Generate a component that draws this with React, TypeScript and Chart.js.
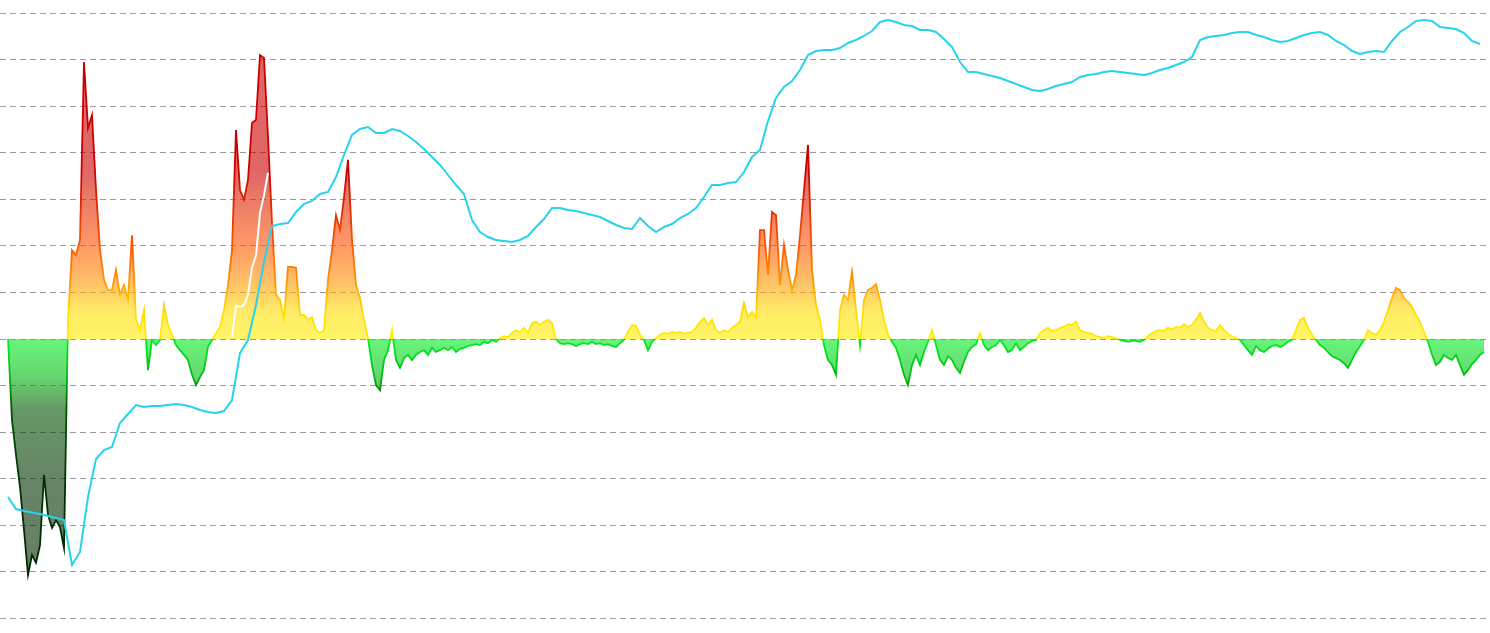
import React, { useEffect, useRef } from 'react';
import { Chart, registerables } from 'chart.js';

Chart.register(...registerables);

// Oscillator (daily-ish steps), index = day
const oscValues: number[] = [
  0, -1.74, -2.49, -3.18, -4.10, -5.07, -4.64, -4.81, -4.43, -2.92,
  -3.78, -4.06, -3.89, -4.04, -4.49, 0.41, 1.91, 1.80, 2.13, 5.95,
  4.53, 4.81, 3.20, 1.91, 1.27, 1.05, 1.05, 1.48, 0.95, 1.16,
  0.84, 2.23, 0.41, 0.19, 0.62, -0.67, -0.02, -0.13, -0.02, 0.73,
  0.30, 0.09, -0.13, -0.24, -0.34, -0.45, -0.77, -0.99, -0.82, -0.67,
  -0.17, -0.02, 0.13, 0.26, 0.62, 1.16, 1.91, 4.49, 3.20, 2.99,
  3.42, 4.64, 4.71, 6.10, 6.04, 4.34, 2.49, 0.95, 0.84, 0.45,
  1.55, 1.55, 1.53, 0.52, 0.52, 0.41, 0.47, 0.19, 0.13, 0.19,
  1.27, 1.91, 2.66, 2.34, 3.05, 3.85, 2.13, 1.16, 0.88, 0.41,
  0.02, -0.56, -0.99, -1.10, -0.45, -0.24, 0.19, -0.45, -0.62, -0.41,
  -0.34, -0.45, -0.34, -0.28, -0.24, -0.34, -0.19, -0.28, -0.24, -0.19,
  -0.24, -0.17, -0.28, -0.21, -0.19, -0.15, -0.13, -0.11, -0.13, -0.06,
  -0.09, -0.02, -0.06, 0.02, 0.06, 0.04, 0.13, 0.19, 0.15, 0.24,
  0.13, 0.34, 0.37, 0.30, 0.37, 0.41, 0.34, 0, -0.09, -0.11,
  -0.09, -0.11, -0.15, -0.11, -0.09, -0.11, -0.06, -0.11, -0.09, -0.13,
  -0.11, -0.15, -0.17, -0.09, -0.02, 0.15, 0.30, 0.28, 0.09, -0.02,
  -0.24, -0.06, 0.02, 0.09, 0.13, 0.11, 0.15, 0.13, 0.15, 0.11,
  0.13, 0.15, 0.24, 0.37, 0.45, 0.30, 0.41, 0.19, 0.13, 0.19,
  0.15, 0.24, 0.30, 0.37, 0.77, 0.47, 0.58, 0.45, 2.34, 2.34,
  1.38, 2.73, 2.66, 1.16, 2.02, 1.48, 1.05, 1.38, 2.23, 3.20,
  4.17, 1.48, 0.73, 0.41, -0.13, -0.45, -0.56, -0.77, 0.62, 0.95,
  0.84, 1.44, 0.62, -0.13, 0.84, 1.05, 1.10, 1.18, 0.84, 0.41,
  0.09, -0.06, -0.19, -0.45, -0.77, -0.99, -0.56, -0.34, -0.56, -0.28,
  -0.06, 0.19, -0.13, -0.45, -0.56, -0.37, -0.45, -0.62, -0.73, -0.49,
  -0.28, -0.17, -0.11, 0.13, -0.13, -0.24, -0.17, -0.13, -0.02, -0.13,
  -0.28, -0.24, -0.09, -0.24, -0.17, -0.09, -0.04, -0.02, 0.13, 0.19,
  0.24, 0.17, 0.19, 0.24, 0.26, 0.32, 0.30, 0.37, 0.19, 0.15,
  0.13, 0.11, 0.06, 0.04, 0.02, 0.06, 0.04, 0.02, -0.02, -0.04,
  -0.06, -0.04, -0.04, -0.06, -0.02, 0.06, 0.13, 0.17, 0.19, 0.17,
  0.24, 0.21, 0.26, 0.24, 0.32, 0.26, 0.30, 0.41, 0.56, 0.37,
  0.24, 0.19, 0.17, 0.30, 0.19, 0.11, 0.06, 0.02, -0.02, -0.13,
  -0.24, -0.34, -0.15, -0.24, -0.28, -0.21, -0.15, -0.13, -0.17, -0.13,
  -0.06, -0.02, 0.19, 0.41, 0.45, 0.24, 0.09, -0.02, -0.13, -0.19,
  -0.28, -0.37, -0.41, -0.45, -0.52, -0.62, -0.45, -0.28, -0.15, -0.02,
  0.19, 0.13, 0.09, 0.19, 0.37, 0.62, 0.88, 1.10, 1.05, 0.88,
  0.80, 0.69, 0.52, 0.37, 0.15, -0.06, -0.34, -0.56, -0.49, -0.34,
  -0.41, -0.45, -0.34, -0.56, -0.77, -0.67, -0.54, -0.45, -0.34, -0.28,
];

// Price (log-level index), one value every 2 days
const priceStep = 2;
const priceValues: number[] = [
  27.2, 24.8, 24.4, 24.1, 23.8, 23.4, 23.0, 22.6, 13.6, 16.2,
  27.2, 34.8, 36.6, 37.2, 42.0, 43.8, 45.6, 45.2, 45.4, 45.4,
  45.6, 45.8, 45.6, 45.2, 44.6, 44.2, 44.0, 44.4, 46.6, 56.0,
  58.6, 65.6, 74.2, 81.4, 81.8, 82.0, 84.2, 85.8, 86.4, 87.8,
  88.2, 91.2, 95.6, 99.6, 100.8, 101.2, 100.0, 100.0, 100.8, 100.4,
  99.4, 98.2, 96.8, 95.2, 93.6, 91.6, 89.6, 87.8, 82.6, 80.2,
  79.2, 78.6, 78.4, 78.2, 78.6, 79.4, 81.2, 82.8, 85.0, 85.0,
  84.6, 84.4, 84.0, 83.6, 83.2, 82.4, 81.6, 81.0, 80.8, 83.0,
  81.4, 80.2, 81.2, 81.8, 83.0, 83.8, 85.0, 87.2, 89.6, 89.6,
  90.0, 90.2, 92.2, 95.2, 96.6, 102.4, 107.0, 109.2, 110.4, 112.6,
  115.6, 116.4, 116.6, 116.6, 117.0, 118.0, 118.6, 119.4, 120.4, 122.2,
  122.6, 122.2, 121.6, 121.4, 120.6, 120.6, 120.2, 118.8, 117.2, 114.2,
  112.2, 112.2, 111.8, 111.4, 111.0, 110.4, 109.8, 109.2, 108.6, 108.4,
  108.8, 109.4, 109.8, 110.2, 111.2, 111.6, 111.8, 112.2, 112.4, 112.2,
  112.0, 111.8, 111.6, 112.0, 112.6, 113.0, 113.6, 114.2, 115.2, 118.6,
  119.2, 119.4, 119.6, 120.0, 120.2, 120.2, 119.6, 119.2, 118.6, 118.2,
  118.4, 119.0, 119.6, 120.0, 120.2, 119.6, 118.4, 117.6, 116.4, 115.8,
  116.2, 116.4, 116.2, 118.4, 120.2, 121.2, 122.4, 122.6, 122.4, 121.2,
  121.0, 120.8, 120.0, 118.4, 117.8,
];

// Short white overlay line (oscillator units)
const overlayStart = 56;
const overlayValues: number[] = [0.04, 0.71, 0.69, 0.73, 0.95, 1.53, 1.80, 2.71, 3.09, 3.57];

const gridLevels: number[] = [-6, -5, -4, -3, -2, -1, 0, 1, 2, 3, 4, 5, 6, 7];

const OSC_MIN = -6.317;
const OSC_MAX = 7.284;
const PRICE_MIN = 0;
const PRICE_MAX = 126.6;

const posStops: [number, string][] = [
  [7.3, '204,0,0'],
  [3.6, '204,0,0'],
  [3.0, '221,34,0'],
  [2.0, '255,85,0'],
  [1.2, '255,153,0'],
  [0.6, '255,221,0'],
  [0, '255,238,0'],
];
const negStops: [number, string][] = [
  [0, '0,238,34'],
  [-0.8, '0,187,17'],
  [-1.5, '0,85,0'],
  [-3, '0,51,0'],
  [-6.4, '0,34,0'],
];

function oscGradient(chart: any, alpha: number): any {
  const area = chart.chartArea;
  const yScale = chart.scales && chart.scales.y;
  if (!area || !yScale) return `rgba(255,238,0,${alpha})`;
  const g = chart.ctx.createLinearGradient(0, area.top, 0, area.bottom);
  const h = area.bottom - area.top;
  [...posStops, ...negStops].forEach(([v, rgb]) => {
    const off = (yScale.getPixelForValue(v) - area.top) / h;
    g.addColorStop(Math.min(1, Math.max(0, off)), `rgba(${rgb},${alpha})`);
  });
  return g;
}

export default function App() {
  const ref = useRef<HTMLCanvasElement>(null);

  useEffect(() => {
    document.body.style.margin = '0';
    document.body.style.overflow = 'hidden';
    const canvas = ref.current;
    if (!canvas) return;
    const chart = new Chart(canvas, {
      type: 'line',
      data: {
        datasets: [
          {
            label: 'Price',
            data: priceValues.map((v, k) => ({ x: k * priceStep, y: v })),
            yAxisID: 'yP',
            borderColor: '#26d3ec',
            borderWidth: 2,
            pointRadius: 0,
            fill: false,
            order: 0,
          },
          {
            label: 'Overlay',
            data: overlayValues.map((v, j) => ({ x: overlayStart + j, y: v })),
            yAxisID: 'y',
            borderColor: '#ffffff',
            borderWidth: 2,
            pointRadius: 0,
            fill: false,
            order: 1,
          },
          {
            label: 'Oscillator',
            data: oscValues.map((v, i) => ({ x: i, y: v })),
            yAxisID: 'y',
            borderColor: (c: any) => oscGradient(c.chart, 1),
            backgroundColor: (c: any) => oscGradient(c.chart, 0.6),
            borderWidth: 1.8,
            pointRadius: 0,
            fill: 'origin',
            order: 2,
          },
        ] as any,
      },
      options: {
        animation: false,
        responsive: false,
        maintainAspectRatio: false,
        events: [],
        layout: { padding: { left: 0, right: 4, top: 0, bottom: 0 } },
        plugins: { legend: { display: false }, tooltip: { enabled: false } },
        scales: {
          x: { type: 'linear', min: -2, max: 369.5, display: false },
          y: {
            type: 'linear',
            min: OSC_MIN,
            max: OSC_MAX,
            position: 'left',
            afterBuildTicks: (axis: any) => {
              axis.ticks = gridLevels.map((v) => ({ value: v }));
            },
            ticks: { display: false },
            border: { display: false, dash: [6, 4] },
            grid: { color: '#9a9a9a', lineWidth: 1, drawTicks: false, tickLength: 0 },
          },
          yP: { type: 'linear', min: PRICE_MIN, max: PRICE_MAX, display: false },
        },
      } as any,
    });
    return () => chart.destroy();
  }, []);

  return <canvas ref={ref} width={1490} height={633} style={{ display: 'block' }} />;
}
